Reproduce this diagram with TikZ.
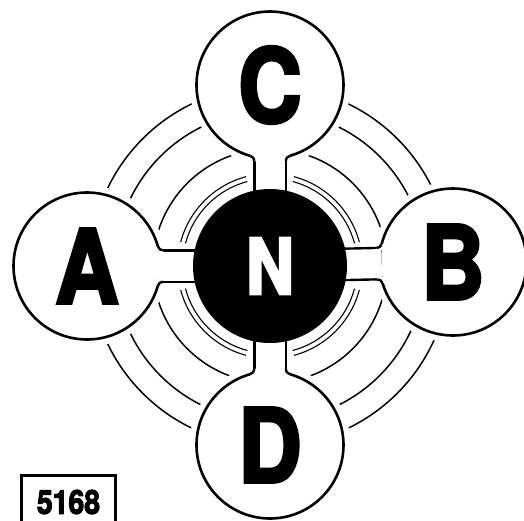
\documentclass[tikz,border=0pt]{standalone}
\usepackage{fontspec}
\setmainfont{TeX Gyre Heros}
\newfontfamily\negrito{texgyreheros-bold.otf}[FakeBold=3.5]
\usepackage{graphicx}
\usepackage{tikz}
\pgfdeclarelayer{frente}
\pgfsetlayers{main,frente}
\newcommand{\estreita}[1]{\scalebox{0.86}[1]{#1}}

\begin{document}
\begin{tikzpicture}[x=1pt,y=1pt,
    nucleo/.style={circle,fill=black,text=white,minimum size=154pt,inner sep=0,
      font=\fontsize{77}{77}\negrito},
    atomo/.style={circle,draw=black,line width=2.6pt,fill=white,minimum size=147pt,inner sep=0,
      font=\fontsize{102}{102}\negrito,preaction={draw=white,line width=14pt}},
    haste/.style={draw=black,line width=2.4pt,double=white,double distance=29pt,
      shorten <=-10pt,shorten >=-3.5pt},
    orbita/.style={line width=1.5pt},
    orbitadupla/.style={line width=1.1pt},
    etiqueta/.style={draw,line width=3pt,minimum width=94pt,minimum height=53pt,inner sep=0,
      font=\fontsize{33}{33}\negrito}]

  \useasboundingbox (-270,-254) rectangle (254,266);

  % o núcleo fica na camada da frente: as hastes passam por baixo dele
  \begin{pgfonlayer}{frente}
    \node[nucleo] (N) at (0,0) {\estreita{N}};
  \end{pgfonlayer}

  % órbitas externas: as partes dentro dos átomos ficam escondidas
  \foreach \r in {117,155,180}
    \draw[orbita] (N.center) circle (\r);
  % órbita dupla junto ao núcleo, interrompida nas hastes
  \foreach \q in {0,90,180,270}
    \foreach \r in {87.5,92.5}
      \draw[orbitadupla] (N.center) ++(\q+15:\r) arc[start angle=\q+15,end angle=\q+75,radius=\r];

  \node[atomo] (A) at (-183,0) {\estreita{A}};
  \node[atomo] (B) at (183,4) {\estreita{B}};
  \node[atomo] (C) at (0,181) {\estreita{C}};
  \node[atomo] (D) at (0,-179) {\estreita{D}};

  \foreach \v in {A,B,C,D}
    \draw[haste] (N) -- (\v);

  % pequenas curvas onde a haste encontra o átomo
  \foreach \v/\rot in {A/0,B/181.25,C/270,D/90}{
    \foreach \s in {1,-1}{
      \begin{scope}[shift={(\v.center)},rotate=\rot,yscale=\s]
        \fill[white] (68,13.5) -- (76.5,13.5) -- (75.9,15.7)
          arc[start angle=270,end angle=195,radius=5] -- (67,19) -- cycle;
        \draw[line width=2.4pt] (75.9,15.7) arc[start angle=270,end angle=195,radius=5];
      \end{scope}
    }
  }

  \node[etiqueta] (codigo) at (-201.5,-236) {\estreita{5168}};
\end{tikzpicture}
\end{document}
